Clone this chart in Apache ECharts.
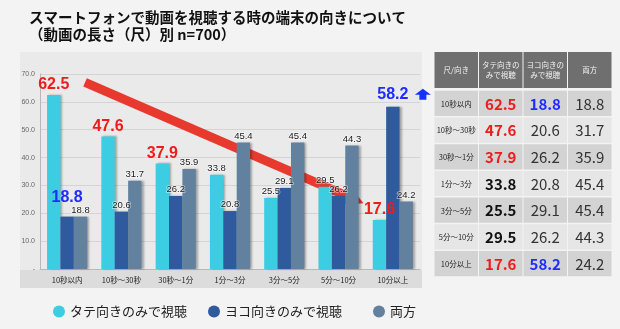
<!DOCTYPE html>
<html><head><meta charset="utf-8">
<script src="https://cdn.jsdelivr.net/npm/echarts@6/dist/echarts.min.js"></script>
<style>html,body{margin:0;padding:0;background:#f3f3f3}#c{width:620px;height:329px}</style>
</head><body><div id="c"></div>
<script>
// ---- data ----
const categories = ['10秒以内','10秒〜30秒','30秒〜1分','1分〜3分','3分〜5分','5分〜10分','10分以上'];
const tateValues = [62.5,47.6,37.9,33.8,25.5,29.5,17.6];
const yokoValues = [18.8,20.6,26.2,20.8,29.1,26.2,58.2];
const ryohoValues = [18.8,31.7,35.9,45.4,45.4,44.3,24.2];
const seriesNames = ['タテ向きのみで視聴','ヨコ向きのみで視聴','両方'];
const yTicks = [0,10,20,30,40,50,60,70];
const tableHeader = ['尺/向き','タテ向きの\nみで視聴','ヨコ向きの\nみで視聴','両方'];
const tateRed = [0,1,2,6];
const yokoBlue = [0,6];
const titleLines = ['スマートフォンで動画を視聴する時の端末の向きについて','（動画の長さ（尺）別 n=700）'];

// ---- annotation anchors (category index, value) ----
const trendStart = [0.33, 67];
const trendEnd = [5.46, 23.6];

// ---- styles ----
const C_TATE = '#3ccde3', C_YOKO = '#2f5a9e', C_RYOHO = '#62819e';
const RED = '#ee1c1c', BLUE = '#1f2bff';
const JP = '"Noto Sans CJK JP", sans-serif';
const LAT = '"Liberation Sans", Arial, sans-serif';

function barData(values, hi, hiColor, hiDist) {
  return values.map((v, i) => hi.includes(i) ? {
    value: v,
    label: { fontSize: 16, fontWeight: 'bold', color: hiColor, distance: hiDist[i] !== undefined ? hiDist[i] : 2, textBorderWidth: 0, fontFamily: LAT }
  } : v);
}
const smallLabel = {
  show: true, position: 'top', distance: 1.5, fontSize: 9.5, color: '#1a1a1a', fontFamily: LAT,
  textBorderColor: 'rgba(255,255,255,0.55)', textBorderWidth: 1.5,
  formatter: p => Number(p.value).toFixed(1)
};
const barStyle = c => ({ color: c, shadowColor: 'rgba(0,0,0,0.3)', shadowBlur: 2, shadowOffsetX: 2 });

// table cells
const tableCells = [];
categories.forEach((cat, r) => {
  tableCells.push({ c: 0, r, text: cat, color: '#222', size: 7.5, weight: 'normal' });
  tableCells.push({ c: 1, r, text: tateValues[r].toFixed(1), color: tateRed.includes(r) ? RED : '#111', size: 15, weight: 'bold' });
  tableCells.push({ c: 2, r, text: yokoValues[r].toFixed(1), color: yokoBlue.includes(r) ? BLUE : '#333', size: 15, weight: yokoBlue.includes(r) ? 'bold' : 'normal' });
  tableCells.push({ c: 3, r, text: ryohoValues[r].toFixed(1), color: '#333', size: 15, weight: 'normal' });
});

const chart = echarts.init(document.getElementById('c'), null, { renderer: 'canvas' });

const legendBase = { top: 300, icon: 'circle', itemWidth: 12, itemHeight: 12, itemGap: 10,
  textStyle: { fontSize: 13, color: '#222', fontFamily: JP } };

chart.setOption({
  backgroundColor: '#f3f3f3',
  animation: false,
  title: { text: titleLines.join('\n'), left: 24, top: 4,
    textStyle: { fontSize: 14.5, fontWeight: 'bold', lineHeight: 17, color: '#111', fontFamily: JP } },
  graphic: [
    { type: 'rect', z: -10, shape: { x: 20, y: 52, width: 402, height: 236 }, style: { fill: '#eaeaea' } },
    { type: 'rect', z: -9, shape: { x: 20, y: 270, width: 402, height: 18 }, style: { fill: '#dcdcdc' } }
  ],
  legend: [
    Object.assign({}, legendBase, { left: 48, data: [seriesNames[0]] }),
    Object.assign({}, legendBase, { left: 203, data: [seriesNames[1]] }),
    Object.assign({}, legendBase, { left: 368, data: [seriesNames[2]] })
  ],
  grid: [
    { left: 40, right: 200, top: 74, bottom: 60 },
    { left: 434, width: 178, top: 52, height: 36 },
    { left: 434, width: 178, top: 90, height: 187 }
  ],
  xAxis: [
    { type: 'category', data: categories, gridIndex: 0,
      axisLine: { lineStyle: { color: '#b8b8b8' } }, axisTick: { show: false },
      axisLabel: { fontSize: 7.5, color: '#222', margin: 7, fontFamily: JP } },
    { type: 'category', data: tableHeader, gridIndex: 1, show: false },
    { type: 'category', data: tableHeader, gridIndex: 2, show: false }
  ],
  yAxis: [
    { type: 'value', gridIndex: 0, min: yTicks[0], max: yTicks[yTicks.length - 1], interval: 10,
      axisLine: { show: true, lineStyle: { color: '#b8b8b8' } }, axisTick: { show: false },
      splitLine: { lineStyle: { color: '#d4d4d4' } },
      axisLabel: { fontSize: 7, color: '#666', margin: 5, fontFamily: LAT, formatter: v => v === 0 ? '-' : v.toFixed(1) } },
    { type: 'category', data: ['h'], gridIndex: 1, show: false },
    { type: 'category', data: categories, gridIndex: 2, show: false, inverse: true }
  ],
  series: [
    { name: seriesNames[0], type: 'bar', barGap: '0%', barCategoryGap: '26%', z: 2,
      itemStyle: barStyle(C_TATE), label: smallLabel, data: barData(tateValues, tateRed, RED, {}) },
    { name: seriesNames[1], type: 'bar', z: 2,
      itemStyle: barStyle(C_YOKO), label: smallLabel, data: barData(yokoValues, yokoBlue, BLUE, { 0: 11, 6: 4 }) },
    { name: seriesNames[2], type: 'bar', z: 2,
      itemStyle: barStyle(C_RYOHO), label: smallLabel, data: barData(ryohoValues, [], RED, {}) },
    { type: 'custom', xAxisIndex: 0, yAxisIndex: 0, z: 2, silent: true, data: [[0, 0]],
      renderItem: (params, api) => {
        const a0 = api.coord([0, trendStart[1]]), a1 = api.coord([1, trendStart[1]]);
        const pitch = a1[0] - a0[0];
        const sx = a0[0] + pitch * trendStart[0], sy = a0[1];
        const b0 = api.coord([0, trendEnd[1]]);
        const ex = b0[0] + pitch * trendEnd[0], ey = b0[1];
        const dx = ex - sx, dy = ey - sy, len = Math.hypot(dx, dy);
        const ux = dx / len, uy = dy / len, nx = -uy, ny = ux;
        const hl = 19, hw = 10;
        const bx = ex - ux * hl, by = ey - uy * hl;
        // up arrow next to 58.2
        const q = api.coord([6, yokoValues[6]]);
        const ax = q[0] + 30, ay = q[1] - 18;
        return { type: 'group', children: [
          { type: 'line', z2: 0.5, shape: { x1: sx, y1: sy, x2: bx + ux * 2, y2: by + uy * 2 }, style: { stroke: '#e8392f', lineWidth: 9 } },
          { type: 'polygon', z2: 0.5, shape: { points: [[ex, ey], [bx + nx * hw, by + ny * hw], [bx - nx * hw, by - ny * hw]] }, style: { fill: '#e8392f' } },
          { type: 'polygon', z2: 0.5, shape: { points: [[ax, ay], [ax + 8, ay + 6], [ax + 3.5, ay + 6], [ax + 3.5, ay + 11], [ax - 3.5, ay + 11], [ax - 3.5, ay + 6], [ax - 8, ay + 6]] }, style: { fill: '#1531ff' } }
        ] };
      } },
    { type: 'custom', xAxisIndex: 1, yAxisIndex: 1, silent: true,
      data: tableHeader.map((h, i) => [i, 0]),
      renderItem: (params, api) => {
        const p = api.coord([api.value(0), 0]); const s = api.size([1, 1]);
        return { type: 'group', children: [
          { type: 'rect', shape: { x: p[0] - s[0] / 2 + 0.5, y: p[1] - s[1] / 2, width: s[0] - 1, height: s[1] }, style: { fill: '#6f6f6f' } },
          { type: 'text', style: { text: tableHeader[params.dataIndex], x: p[0], y: p[1], align: 'center', verticalAlign: 'middle',
            fill: '#f2f2f2', font: '7.5px ' + JP, lineHeight: 10 } }
        ] };
      } },
    { type: 'custom', xAxisIndex: 2, yAxisIndex: 2, silent: true,
      data: tableCells.map(t => [t.c, t.r]),
      renderItem: (params, api) => {
        const t = tableCells[params.dataIndex];
        const p = api.coord([t.c, t.r]); const s = api.size([1, 1]);
        return { type: 'group', children: [
          { type: 'rect', shape: { x: p[0] - s[0] / 2 + 0.5, y: p[1] - s[1] / 2 + 0.75, width: s[0] - 1, height: s[1] - 1.5 },
            style: { fill: t.r % 2 === 0 ? '#d3d3d3' : '#e6e6e6' } },
          { type: 'text', style: { text: t.text, x: p[0], y: p[1] + 0.5, align: 'center', verticalAlign: 'middle',
            fill: t.color, font: t.weight + ' ' + t.size + 'px ' + JP } }
        ] };
      } }
  ]
});
</script></body></html>
